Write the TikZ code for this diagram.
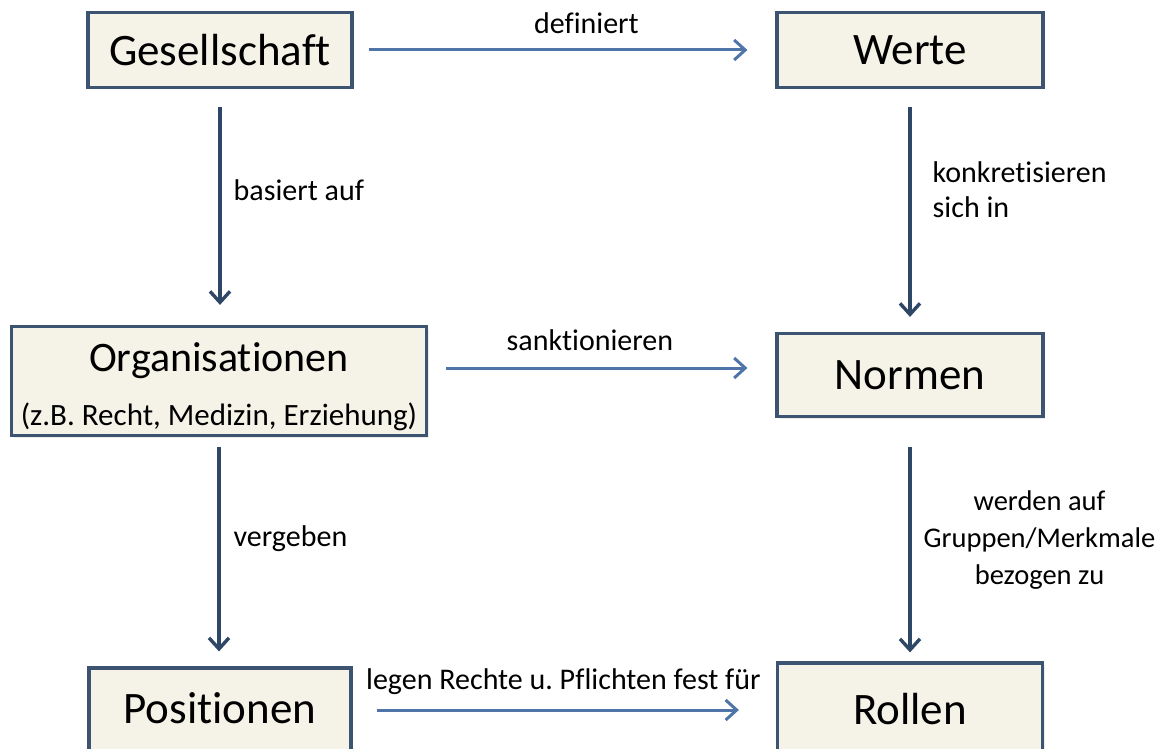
\documentclass[tikz,border=0pt]{standalone}
\usepackage{fontspec}
\setmainfont{Carlito}[Ligatures=CommonOff]
\usetikzlibrary{arrows.meta,shadows}
\definecolor{boxfill}{RGB}{245,243,232}
\definecolor{boxline}{RGB}{60,84,114}
\definecolor{harrowcol}{RGB}{79,117,168}
\definecolor{varrowcol}{RGB}{47,71,102}
\frenchspacing

\begin{document}
\begin{tikzpicture}[x=1pt,y=-1pt,
  box/.style={draw=boxline, line width=3.2pt, fill=boxfill, minimum width=264pt, minimum height=75pt,
    font=\fontsize{45}{54}\selectfont, drop shadow={opacity=0.15, shadow xshift=2pt, shadow yshift=-2pt}},
  harrow/.style={draw=harrowcol, line width=3pt, -{Straight Barb[length=11pt,width=20pt]}},
  varrow/.style={draw=varrowcol, line width=3.4pt, -{Straight Barb[length=11pt,width=20pt]}},
  lbl/.style={font=\fontsize{30}{35}\selectfont, inner sep=0pt, text=black}]
\useasboundingbox (0,0) rectangle (1175,749);
\clip (0,0) rectangle (1175,749);

% boxes
\node[box] (ges) at (220,50) {Gesellschaft};
\node[box, minimum width=266pt] (werte) at (910,50) {Werte};
\node[box, minimum width=415pt, minimum height=109pt, align=center] (org) at (219,381)
  {\fontsize{42}{41}\selectfont\rule{0pt}{41pt}Organisationen\\ \fontsize{31}{41}\selectfont (z.B. Recht, Medizin, Erziehung)};
\node[box, minimum width=266pt, minimum height=83pt] (normen) at (910,375) {Normen};
\node[box, minimum width=262pt, minimum height=92pt, text depth=12pt] (pos) at (220,714) {Positionen};
\node[box, minimum width=265pt, minimum height=92pt] (rollen) at (910,709) {Rollen};

% connectors
\draw[harrow, shorten <=15pt, shorten >=28pt] (ges.east) -- (werte.west)
  node[lbl, pos=0.552, above=15pt] (defLbl) {definiert};
\draw[varrow, shorten <=18pt, shorten >=20pt] (ges.south) -- (ges.south |- org.north)
  node[lbl, pos=0.43, right=12pt] (basLbl) {basiert auf};
\draw[varrow, shorten <=18pt, shorten >=15pt] (werte.south) -- (werte.south |- normen.north)
  node[lbl, pos=0.415, right=21pt, align=left] (konLbl) {konkretisieren\\sich in};
\draw[harrow, shorten <=18pt, shorten >=28pt] ([yshift=13pt]org.east) -- ([yshift=13pt]org.east -| normen.west)
  node[lbl, pos=0.466, above=16pt] (sanLbl) {sanktionieren};
\draw[varrow, shorten <=10pt, shorten >=15pt] (org.south) -- (org.south |- pos.north)
  node[lbl, pos=0.445, right=13pt] (verLbl) {vergeben};
\draw[varrow, shorten <=29pt, shorten >=9pt] (normen.south) -- (normen.south |- rollen.north)
  node[lbl, pos=0.5, right=12pt, align=center, font=\fontsize{28.5}{37}\selectfont] (werLbl) {werden auf\\Gruppen/Merkmale\\bezogen zu};
\draw[harrow, shorten <=24pt, shorten >=37pt] ([yshift=4pt]pos.east) -- ([yshift=4pt]pos.east -| rollen.west)
  node[lbl, pos=0.498, above=14pt] (legLbl) {legen Rechte u. Pflichten fest für};
\end{tikzpicture}
\end{document}
